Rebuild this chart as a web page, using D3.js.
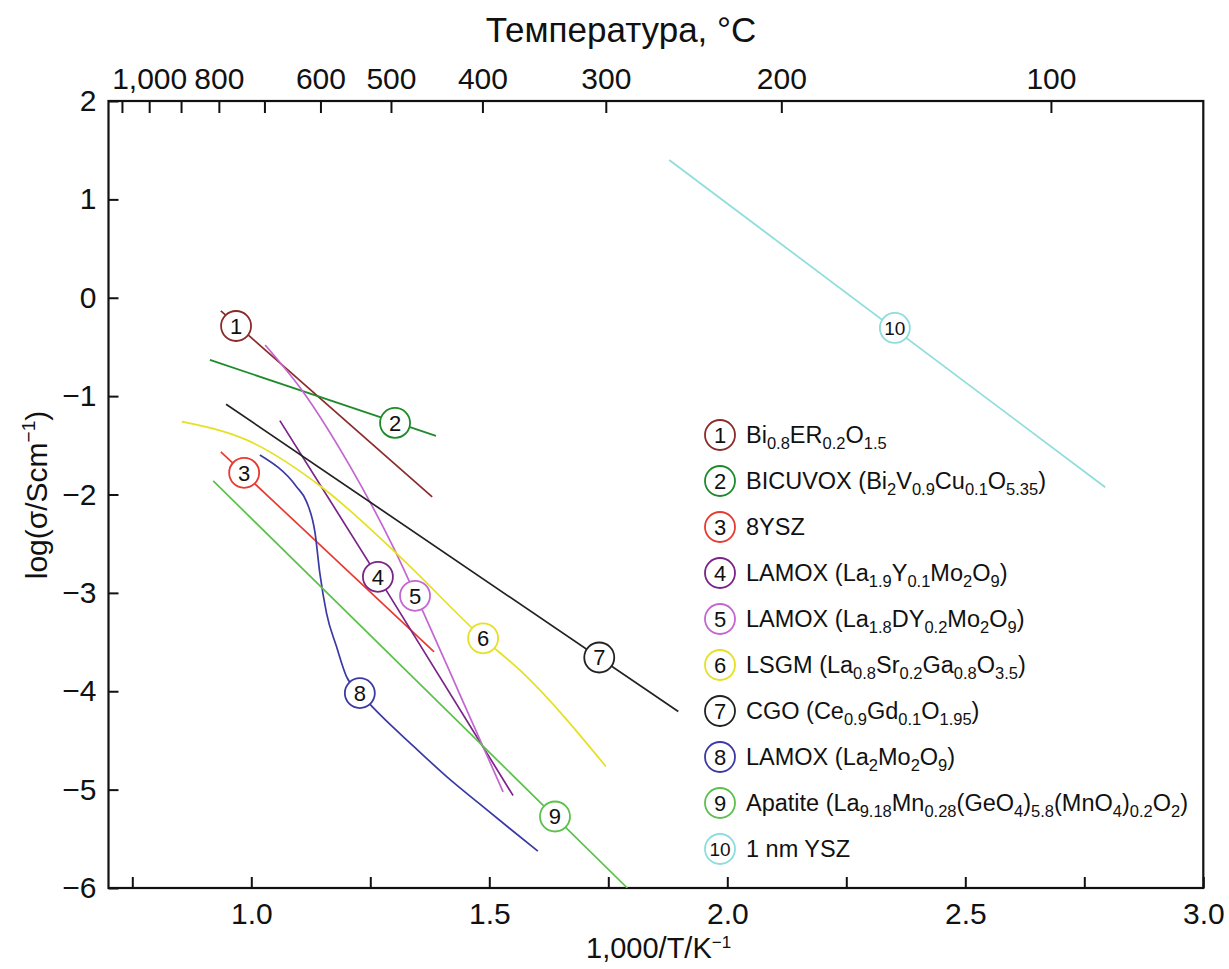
<!DOCTYPE html>
<html>
<head>
<meta charset="utf-8">
<script src="https://cdn.jsdelivr.net/npm/d3@7"></script>
<style>
  html, body { margin: 0; padding: 0; background: #fff; }
  svg { display: block; }
  text { font-family: "Liberation Sans", Arial, sans-serif; fill: #111; }
</style>
</head>
<body>
<svg id="chart" width="1229" height="969"></svg>
<script>
// ---------------- data ----------------
const seriesIds = ["1","2","3","4","5","6","7","8","9","10"];
const seriesColors = ["#8b2a2a","#1f8a2c","#e83a30","#7a2488","#c466d2","#e6e022","#222222","#3b3aa4","#5cc04c","#8edcdc"];
const legendLabels = [
  "Bi_{0.8}ER_{0.2}O_{1.5}",
  "BICUVOX (Bi_{2}V_{0.9}Cu_{0.1}O_{5.35})",
  "8YSZ",
  "LAMOX (La_{1.9}Y_{0.1}Mo_{2}O_{9})",
  "LAMOX (La_{1.8}DY_{0.2}Mo_{2}O_{9})",
  "LSGM (La_{0.8}Sr_{0.2}Ga_{0.8}O_{3.5})",
  "CGO (Ce_{0.9}Gd_{0.1}O_{1.95})",
  "LAMOX (La_{2}Mo_{2}O_{9})",
  "Apatite (La_{9.18}Mn_{0.28}(GeO_{4})_{5.8}(MnO_{4})_{0.2}O_{2})",
  "1 nm YSZ"
];
// curve points: [1000/T, log sigma]
const s1 = [[0.936,-0.134],[1.380,-2.024]];
const s2 = [[0.913,-0.632],[1.388,-1.404]];
const s3 = [[0.936,-1.567],[1.384,-3.600]];
const s4 = [[1.060,-1.249],[1.266,-2.837],[1.550,-5.060]];
const s5 = [[1.029,-0.480],[1.109,-0.957],[1.207,-1.709],[1.298,-2.533],[1.361,-3.193],[1.445,-4.108],[1.529,-5.022]];
const s6 = [[0.854,-1.259],[0.990,-1.445],[1.151,-1.936],[1.312,-2.631],[1.487,-3.462],[1.571,-3.816],[1.745,-4.765]];
const s7 = [[0.947,-1.082],[1.897,-4.206]];
const s8 = [[1.018,-1.598],[1.095,-1.920],[1.116,-2.072],[1.134,-2.393],[1.144,-2.800],[1.158,-3.206],[1.179,-3.546],[1.200,-3.851],[1.228,-4.019],[1.270,-4.236],[1.340,-4.555],[1.411,-4.870],[1.481,-5.150],[1.543,-5.395],[1.602,-5.625]];
const s9 = [[0.920,-1.862],[1.790,-6.000]];
const s10 = [[1.878,1.400],[2.794,-1.926]];
const seriesPoints = [s1,s2,s3,s4,s5,s6,s7,s8,s9,s10];
// numbered marker positions on each curve
const markerX = [0.968, 1.302, 0.985, 1.266, 1.344, 1.487, 1.731, 1.228, 1.638, 2.352];
const markerY = [-0.287, -1.272, -1.780, -2.837, -3.030, -3.462, -3.657, -4.019, -5.273, -0.307];

const xTicks = [0.75, 1.0, 1.25, 1.5, 1.75, 2.0, 2.25, 2.5, 2.75, 3.0];
const xTickLabels = [1.0, 1.5, 2.0, 2.5, 3.0];
const yTicks = [2, 1, 0, -1, -2, -3, -4, -5, -6];
const tempTicks = [1100, 1000, 900, 800, 700, 600, 500, 400, 300, 200, 100];
const tempLabels = [1000, 800, 600, 500, 400, 300, 200, 100];

const titleTop = "Температура, °C";
const xTitle = "1,000/T/K";
const yTitle = "log(σ/Scm";

// ---------------- layout ----------------
const svg = d3.select("#chart");
const L = 108.5, R = 1203.3, T = 101, B = 888;
const x = d3.scaleLinear().domain([0.7, 3.0]).range([L, R]);
const y = d3.scaleLinear().domain([-6, 2]).range([B, T]);
const fontMain = "Liberation Sans, Arial, sans-serif";

svg.append("defs").append("clipPath").attr("id","plotclip")
  .append("rect").attr("x", L).attr("y", T).attr("width", R-L).attr("height", B-T);

// bottom axis
const fmt1 = d3.format(".1f");
const gB = svg.append("g").attr("transform", `translate(0,${B})`)
  .call(d3.axisBottom(x).tickValues(xTicks).tickSize(-11).tickPadding(15)
    .tickFormat(d => xTickLabels.some(v => Math.abs(v-d) < 1e-9) ? fmt1(d) : ""));
// left axis
const gL = svg.append("g").attr("transform", `translate(${L},0)`)
  .call(d3.axisLeft(y).tickValues(yTicks).tickSize(-10).tickPadding(12).tickFormat(d3.format("d")));
// top axis (temperature)
const tx = t => 1000 / (t + 273.15);
const gT = svg.append("g").attr("transform", `translate(0,${T})`)
  .call(d3.axisTop(x).tickValues(tempTicks.map(tx)).tickSize(-12).tickPadding(12)
    .tickFormat((d,i) => tempLabels.includes(tempTicks[i]) ? d3.format(",")(tempTicks[i]) : ""));

[gB, gL, gT].forEach(g => {
  g.select(".domain").remove();
  g.selectAll(".tick line").attr("stroke", "#111").attr("stroke-width", 2);
  g.selectAll(".tick text").attr("font-family", fontMain).attr("font-size", 30).attr("fill", "#111");
});

// frame
svg.append("rect").attr("x", L).attr("y", T).attr("width", R-L).attr("height", B-T)
  .attr("fill", "none").attr("stroke", "#111").attr("stroke-width", 2.2);

// titles
svg.append("text").attr("x", 621).attr("y", 42).attr("text-anchor", "middle")
  .attr("font-family", "Open Sans, Noto Sans, sans-serif").attr("font-size", 35).text(titleTop);

const xt = svg.append("text").attr("x", 586).attr("y", 958)
  .attr("font-family", fontMain).attr("font-size", 29);
xt.append("tspan").text(xTitle);
xt.append("tspan").attr("font-size", 17).attr("dy", -10).text("−1");

const yt = svg.append("text").attr("transform", "translate(47,495) rotate(-90)")
  .attr("text-anchor", "middle").attr("font-family", fontMain).attr("font-size", 30);
yt.append("tspan").text(yTitle);
yt.append("tspan").attr("font-size", 19).attr("dy", -12).text("−1");
yt.append("tspan").attr("dy", 12).text(")");

// curves
const line = d3.line().x(d => x(d[0])).y(d => y(d[1])).curve(d3.curveMonotoneX);
const plot = svg.append("g").attr("clip-path", "url(#plotclip)");
plot.selectAll("path.series").data(seriesPoints).join("path")
  .attr("class", "series")
  .attr("d", line)
  .attr("fill", "none")
  .attr("stroke", (d,i) => seriesColors[i])
  .attr("stroke-width", 1.7);

// markers on curves
const mk = svg.append("g").selectAll("g").data(seriesIds).join("g")
  .attr("transform", (d,i) => `translate(${x(markerX[i])},${y(markerY[i])})`);
mk.append("circle").attr("r", 15).attr("fill", "#fff")
  .attr("stroke", (d,i) => seriesColors[i]).attr("stroke-width", 1.8);
mk.append("text").attr("text-anchor", "middle").attr("dy", "0.36em")
  .attr("font-family", fontMain).attr("font-size", d => d.length > 1 ? 19 : 22).text(d => d);

// legend
const legX = 720, legY0 = 435, legStep = 46;
const leg = svg.append("g").selectAll("g").data(seriesIds).join("g")
  .attr("transform", (d,i) => `translate(${legX},${legY0 + i*legStep})`);
leg.append("circle").attr("r", 15).attr("fill", "#fff")
  .attr("stroke", (d,i) => seriesColors[i]).attr("stroke-width", 1.8);
leg.append("text").attr("text-anchor", "middle").attr("dy", "0.36em")
  .attr("font-family", fontMain).attr("font-size", d => d.length > 1 ? 19 : 22).text(d => d);

function addFormula(sel, str) {
  const parts = [];
  const re = /_\{([^}]*)\}/g;
  let last = 0, m;
  while ((m = re.exec(str)) !== null) {
    if (m.index > last) parts.push({t: str.slice(last, m.index), sub: false});
    parts.push({t: m[1], sub: true});
    last = re.lastIndex;
  }
  if (last < str.length) parts.push({t: str.slice(last), sub: false});
  let shifted = false;
  parts.forEach(p => {
    const ts = sel.append("tspan").text(p.t);
    if (p.sub && !shifted) { ts.attr("dy", 6).attr("font-size", 16.5); shifted = true; }
    else if (p.sub) { ts.attr("font-size", 16.5); }
    else if (!p.sub && shifted) { ts.attr("dy", -6); shifted = false; }
  });
}
leg.append("text").attr("x", 26).attr("y", 8)
  .attr("font-family", fontMain).attr("font-size", 23.5)
  .each(function(d,i){ addFormula(d3.select(this), legendLabels[i]); });
</script>
</body>
</html>
